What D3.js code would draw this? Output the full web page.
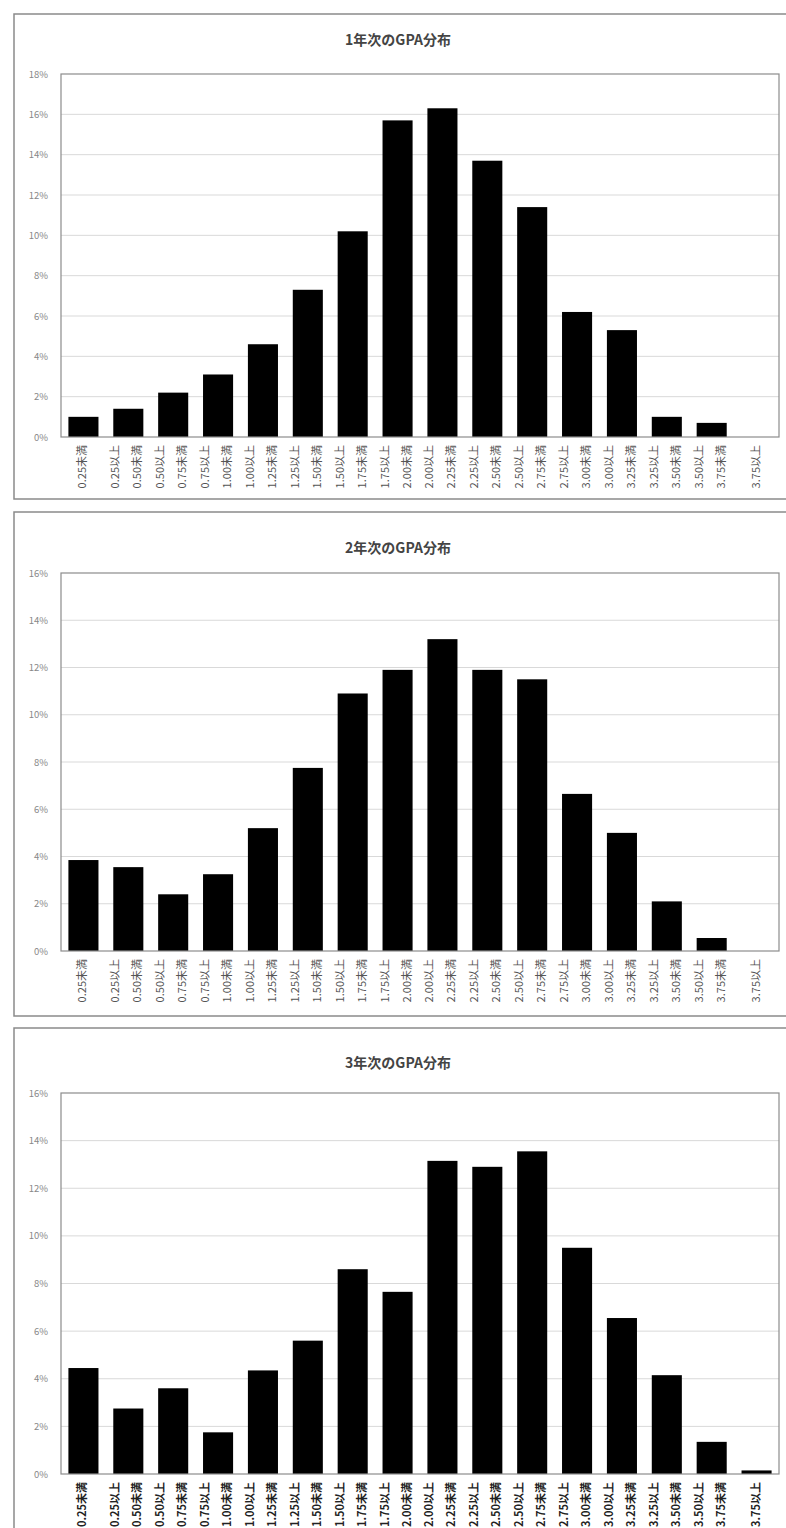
<!DOCTYPE html>
<html>
<head>
<meta charset="utf-8">
<script src="https://cdn.jsdelivr.net/npm/d3@7"></script>
<style>
  html, body { margin: 0; padding: 0; background: #fff; }
  svg { display: block; }
</style>
</head>
<body>
<script>
// ---- data ----
const categories = [
  "0.25未満",
  "0.25以上\n0.50未満",
  "0.50以上\n0.75未満",
  "0.75以上\n1.00未満",
  "1.00以上\n1.25未満",
  "1.25以上\n1.50未満",
  "1.50以上\n1.75未満",
  "1.75以上\n2.00未満",
  "2.00以上\n2.25未満",
  "2.25以上\n2.50未満",
  "2.50以上\n2.75未満",
  "2.75以上\n3.00未満",
  "3.00以上\n3.25未満",
  "3.25以上\n3.50未満",
  "3.50以上\n3.75未満",
  "3.75以上"
];
const titles = ["1年次のGPA分布", "2年次のGPA分布", "3年次のGPA分布"];
const year1 = [1.0, 1.4, 2.2, 3.1, 4.6, 7.3, 10.2, 15.7, 16.3, 13.7, 11.4, 6.2, 5.3, 1.0, 0.7, 0.0];
const year2 = [3.85, 3.55, 2.4, 3.25, 5.2, 7.75, 10.9, 11.9, 13.2, 11.9, 11.5, 6.65, 5.0, 2.1, 0.55, 0.0];
const year3 = [4.45, 2.75, 3.6, 1.75, 4.35, 5.6, 8.6, 7.65, 13.15, 12.9, 13.55, 9.5, 6.55, 4.15, 1.35, 0.15];
const ticks1 = [0, 2, 4, 6, 8, 10, 12, 14, 16, 18];
const ticks2 = [0, 2, 4, 6, 8, 10, 12, 14, 16];
const ticks3 = [0, 2, 4, 6, 8, 10, 12, 14, 16];

// ---- layout ----
const W = 786, H = 1528;
const panels = [
  { title: titles[0], values: year1, ticks: ticks1, boxTop: 14, boxBottom: 499, titleY: 45, plotTop: 74, plotBottom: 437, labelFill: "#555", labelWeight: "normal" },
  { title: titles[1], values: year2, ticks: ticks2, boxTop: 512, boxBottom: 1016, titleY: 553, plotTop: 573, plotBottom: 951, labelFill: "#555", labelWeight: "normal" },
  { title: titles[2], values: year3, ticks: ticks3, boxTop: 1028, boxBottom: 1560, titleY: 1068, plotTop: 1093, plotBottom: 1474, labelFill: "#222", labelWeight: "bold" }
];
const plotLeft = 61, plotRight = 779;
const font = "'Noto Sans CJK JP', 'Noto Sans', sans-serif";

const svg = d3.select("body").append("svg")
  .attr("width", W).attr("height", H)
  .style("font-family", font);

svg.append("rect").attr("width", W).attr("height", H).attr("fill", "#fff");

const x = d3.scaleBand()
  .domain(categories)
  .range([plotLeft, plotRight])
  .paddingInner(0.33)
  .paddingOuter(0.165);

panels.forEach(p => {
  const g = svg.append("g");
  // outer chart box
  g.append("rect")
    .attr("x", 14).attr("y", p.boxTop)
    .attr("width", 800).attr("height", p.boxBottom - p.boxTop)
    .attr("fill", "#fff").attr("stroke", "#8a8a8a").attr("stroke-width", 1.5);

  // title
  g.append("text")
    .attr("x", 398).attr("y", p.titleY)
    .attr("text-anchor", "middle")
    .attr("font-size", 14).attr("font-weight", "bold")
    .attr("fill", "#444")
    .text(p.title);

  const yMax = d3.max(p.ticks);
  const y = d3.scaleLinear().domain([0, yMax]).range([p.plotBottom, p.plotTop]);

  // gridlines
  g.append("g").selectAll("line")
    .data(p.ticks.filter(t => t > 0 && t < yMax))
    .join("line")
    .attr("x1", plotLeft).attr("x2", plotRight)
    .attr("y1", d => y(d)).attr("y2", d => y(d))
    .attr("stroke", "#d9d9d9").attr("stroke-width", 1);

  // y axis labels
  const yAxis = d3.axisLeft(y).tickValues(p.ticks).tickFormat(d => d + "%").tickSize(0).tickPadding(13);
  const ya = g.append("g").attr("transform", `translate(${plotLeft},0)`).call(yAxis);
  ya.select(".domain").remove();
  ya.selectAll("text").attr("font-size", 9.5).attr("fill", "#888").style("font-family", font);

  // bars
  g.append("g").selectAll("rect")
    .data(p.values)
    .join("rect")
    .attr("x", (d, i) => x(categories[i]))
    .attr("width", x.bandwidth())
    .attr("y", d => y(d))
    .attr("height", d => y(0) - y(d))
    .attr("fill", "#000");

  // plot area border
  g.append("rect")
    .attr("x", plotLeft).attr("y", p.plotTop)
    .attr("width", plotRight - plotLeft).attr("height", p.plotBottom - p.plotTop)
    .attr("fill", "none").attr("stroke", "#8c8c8c").attr("stroke-width", 1.2);

  // x labels (rotated, two lines)
  const lg = g.append("g");
  categories.forEach(c => {
    const lines = c.split("\n");
    const cx = x(c) + x.bandwidth() / 2;
    lines.forEach((ln, j) => {
      const off = lines.length === 1 ? 0 : (j === 0 ? -12 : 10);
      const tx = cx + off, ty = p.plotBottom + 8;
      lg.append("text")
        .attr("transform", `translate(${tx},${ty}) rotate(-90)`)
        .attr("text-anchor", "end")
        .attr("dominant-baseline", "middle")
        .attr("font-size", 11)
        .attr("font-weight", p.labelWeight)
        .attr("fill", p.labelFill)
        .text(ln);
    });
  });
});
</script>
</body>
</html>
